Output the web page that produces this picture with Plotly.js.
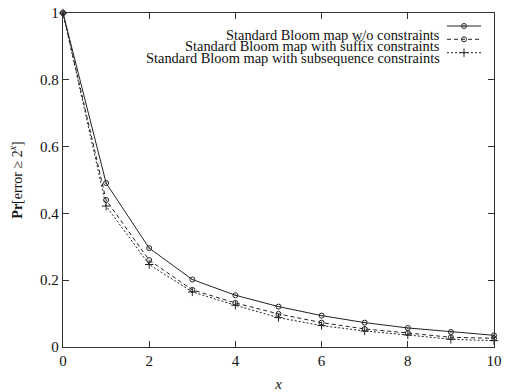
<!DOCTYPE html>
<html>
<head>
<meta charset="utf-8">
<script src="https://cdn.plot.ly/plotly-3.0.1.min.js"></script>
<style>
  html, body { margin: 0; padding: 0; background: #fff; }
  #chart { width: 507px; height: 392px; }
</style>
</head>
<body>
<div id="chart"></div>
<script>
// x = exponent, y = Pr[error >= 2^x]
const xValues = [0, 1, 2, 3, 4, 5, 6, 7, 8, 9, 10];
const noConstraints = [1.0, 0.491, 0.296, 0.202, 0.155, 0.121, 0.094, 0.073, 0.057, 0.045, 0.035];
const suffixConstraints = [1.0, 0.44, 0.26, 0.171, 0.132, 0.099, 0.073, 0.054, 0.042, 0.029, 0.026];
const subseqConstraints = [1.0, 0.422, 0.247, 0.165, 0.125, 0.088, 0.064, 0.048, 0.036, 0.023, 0.019];
const seriesNames = [
  "Standard Bloom map w/o constraints",
  "Standard Bloom map with suffix constraints",
  "Standard Bloom map with subsequence constraints"
];
const xTicks = [0, 2, 4, 6, 8, 10];
const yTicks = [0, 0.2, 0.4, 0.6, 0.8, 1];

const FONT = "'Liberation Serif', 'Times New Roman', serif";
const INK = "#222";

const styles = [
  { dash: "solid", symbol: "circle-dot", size: 5, fill: "rgba(0,0,0,0)" },
  { dash: "4px,3px", symbol: "circle-open", size: 5, fill: INK },
  { dash: "2px,2px", symbol: "cross-thin-open", size: 6, fill: INK }
];
const seriesData = [noConstraints, suffixConstraints, subseqConstraints];

function markerFor(i) {
  return { symbol: styles[i].symbol, size: styles[i].size, color: styles[i].fill,
           line: { color: INK, width: 1 } };
}

const traces = seriesData.map((ys, i) => ({
  type: "scatter",
  mode: "lines+markers",
  x: xValues,
  y: ys,
  name: seriesNames[i],
  showlegend: false,
  line: { color: INK, width: 1, dash: styles[i].dash },
  marker: markerFor(i),
  cliponaxis: false
}));

// Key samples on an overlay axis whose values are figure fractions
const W = 507, H = 392;
const plotL = 63, plotR = W - 13, plotT = 13, plotB = H - 45;
const keyRowsY = [26, 39.3, 52.7];
const keyX0 = 447, keyX1 = 481;
seriesNames.forEach((name, i) => {
  const yy = 1 - keyRowsY[i] / H;
  traces.push({
    type: "scatter", mode: "lines", xaxis: "x2", yaxis: "y2",
    x: [keyX0 / W, keyX1 / W], y: [yy, yy], showlegend: false, hoverinfo: "skip",
    line: { color: INK, width: 1, dash: styles[i].dash }, cliponaxis: false
  });
  traces.push({
    type: "scatter", mode: "markers", xaxis: "x2", yaxis: "y2",
    x: [(keyX0 + keyX1) / 2 / W], y: [yy], showlegend: false, hoverinfo: "skip",
    marker: markerFor(i), cliponaxis: false
  });
});

const annotations = seriesNames.map((name, i) => ({
  xref: "paper", yref: "paper",
  x: 445 / W, y: 1 - keyRowsY[i] / H,
  xanchor: "right", yanchor: "middle",
  text: name, showarrow: false, borderpad: 0,
  font: { family: FONT, size: 14.4, color: "#111" }
}));

const axisCommon = {
  showgrid: false, zeroline: false, showline: true, mirror: "allticks",
  linecolor: "#333", linewidth: 1.2,
  ticks: "inside", ticklen: 6, tickwidth: 1, tickcolor: "#333",
  tickfont: { family: FONT, size: 15, color: "#111" },
  fixedrange: true
};

const layout = {
  width: W, height: H,
  margin: { l: plotL, r: W - plotR, t: plotT, b: H - plotB },
  paper_bgcolor: "#fff", plot_bgcolor: "#fff",
  font: { family: FONT },
  showlegend: false,
  xaxis: Object.assign({}, axisCommon, {
    range: [0, 10], tickvals: xTicks, ticktext: xTicks.map(String),
    title: { text: "<i>x</i>", font: { family: FONT, size: 15, color: "#111" }, standoff: 12 }
  }),
  yaxis: Object.assign({}, axisCommon, {
    range: [0, 1], tickvals: yTicks, ticktext: yTicks.map(String),
    title: { text: "<b>Pr</b>[error ≥ 2<sup><i>x</i></sup>]",
             font: { family: FONT, size: 14, color: "#111" }, standoff: 14 }
  }),
  // overlay axes spanning the plot area, valued in figure fractions
  xaxis2: { overlaying: "x", anchor: "y2", range: [plotL / W, plotR / W], visible: false, fixedrange: true },
  yaxis2: { overlaying: "y", anchor: "x2", range: [(H - plotB) / H, (H - plotT) / H], visible: false, fixedrange: true },
  annotations: annotations
};

Plotly.newPlot("chart", traces, layout, { staticPlot: true, displayModeBar: false });
</script>
</body>
</html>
